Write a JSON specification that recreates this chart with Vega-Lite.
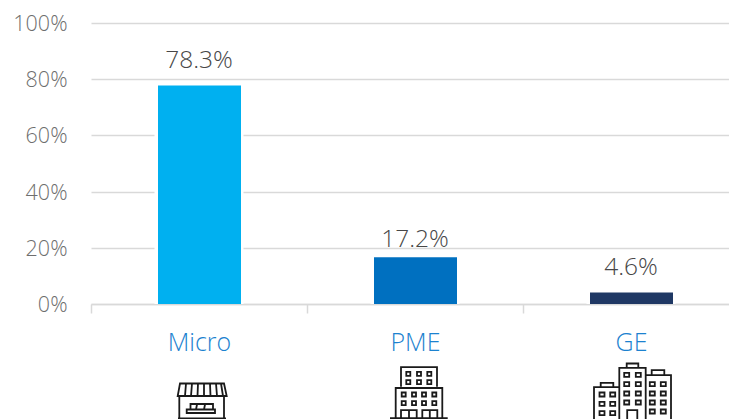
{"$schema":"https://vega.github.io/schema/vega-lite/v6.json","width":648,"height":281,"autosize":"none","padding":{"left":91,"top":23,"right":0,"bottom":115},"background":"white","view":{"stroke":null},
"data":{"values":[{"segment":"Micro","share":0.783},{"segment":"PME","share":0.172},{"segment":"GE","share":0.046}]},
"encoding":{"x":{"field":"segment","type":"nominal","sort":["Micro","PME","GE"],"scale":{"paddingInner":0,"paddingOuter":0},"axis":{"title":null,"labelAngle":0,"labelFont":"Open Sans","labelFontWeight":300,"labelFontSize":25,"labelColor":"#1c82cf","labelPadding":17,"labelBaseline":"top","tickBand":"extent","tickColor":"#d9d9d9","tickWidth":1.5,"tickSize":9,"domainColor":"#d9d9d9","domainWidth":1.5,"grid":false}}},
"layer":[
{"mark":{"type":"bar","color":"white","size":89,"y2Offset":-1.5},"encoding":{"y":{"field":"share","type":"quantitative","stack":null,"scale":{"domain":[0,1]},"axis":{"title":null,"format":".0%","values":[0,0.2,0.4,0.6,0.8,1],"domain":false,"ticks":false,"labelFont":"Open Sans","labelFontWeight":300,"labelFontSize":21.5,"labelColor":"#6e6e6e","labelPadding":24,"labelOffset":1.5,"gridColor":"#d9d9d9","gridWidth":1.5}}}},
{"mark":{"type":"bar","size":83,"xOffset":0.5,"x2Offset":0.5,"yOffset":1.5,"y2Offset":-1.5},"encoding":{"y":{"field":"share","type":"quantitative","stack":null},"color":{"field":"segment","type":"nominal","legend":null,"sort":["Micro","PME","GE"],"scale":{"domain":["Micro","PME","GE"],"range":["#00b0f0","#0070c0","#1f3864"]}}}},
{"transform":[{"filter":"datum.segment !== 'PME'"}],"mark":{"type":"text","font":"Open Sans","fontWeight":300,"fontSize":24.5,"color":"#474747","baseline":"middle","dy":-23},"encoding":{"y":{"field":"share","type":"quantitative","stack":null},"text":{"field":"share","type":"quantitative","format":".1%"}}},
{"transform":[{"filter":"datum.segment === 'PME'"}],"mark":{"type":"text","font":"Open Sans","fontWeight":300,"fontSize":24.5,"color":"#474747","baseline":"middle","dy":-15.5},"encoding":{"y":{"field":"share","type":"quantitative","stack":null},"text":{"field":"share","type":"quantitative","format":".1%"}}},
{"mark":{"type":"point","filled":false,"size":4,"stroke":"#1a1a1a","strokeWidth":1.8,"opacity":1,"yOffset":100},"encoding":{"y":{"datum":0},"shape":{"field":"segment","type":"nominal","legend":null,"scale":{"domain":["Micro","PME","GE"],"range":[
"M-19 -20.5L25 -20.5L27.7 -8L-21.3 -8ZM-13 -20.5L-14 -8M-7 -20.5L-8 -8M-1 -20.5L-1.5 -8M5 -20.5L5 -8M11 -20.5L11.5 -8M17 -20.5L18 -8M22 -20.5L24 -8M-19.7 -8L-19.7 14M25 -8L25 14M-21 14.5L27 14.5M-12.3 5.5L16 5.5L16 9L-12.3 9ZM-8.5 5.5L-8.5 0L14 0L14 5.5M-3 5.5L-2 0.5M5 5.5L6 0.5",
"M-14 -17.2L-14 -36.8L22 -36.8L22 -17.2M-19.3 14L-19.3 -16L27.3 -16L27.3 14M-25 14.2L32.7 14.2M-8.7 -32.2h4v4h-4zM2 -32.2h4v4h-4zM12.3 -32.2h4v4h-4zM-8.7 -23.8h4v4h-4zM2 -23.8h4v4h-4zM12.3 -23.8h4v4h-4zM-13.3 -11.5h4v4h-4zM-3 -11.5h4v4h-4zM7 -11.5h4v4h-4zM17.3 -11.5h4v4h-4zM-13.3 -2.8h4v4h-4zM-3 -2.8h4v4h-4zM7 -2.8h4v4h-4zM17.3 -2.8h4v4h-4zM-14 14L-14 6.2L1.7 6.2L1.7 14M-6 6.2L-6 14M7.3 14L7.3 6.2L22.3 6.2L22.3 14M14.8 6.2L14.8 14",
"M-11.7 22L-11.7 -36.2L14.7 -36.2L14.7 22M-4.3 -36.2L-4.3 -40.5L7.3 -40.5L7.3 -36.2M14.7 -28.8L40 -28.8L40 22M20.7 -28.8L20.7 -33.8L33.3 -33.8L33.3 -28.8M-11.7 -16.8L-37 -16.8L-37 22M-30.3 -16.8L-30.3 -21.2L-17.7 -21.2L-17.7 -16.8M-6.8 -31.2h5v4h-5zM4.8 -31.2h5v4h-5zM-6.8 -21.8h5v4h-5zM4.8 -21.8h5v4h-5zM-6.8 -12.5h5v4h-5zM4.8 -12.5h5v4h-5zM-6.8 -3.5h5v4h-5zM4.8 -3.5h5v4h-5zM18.8 -21.8h5v4h-5zM29.8 -21.8h5v4h-5zM18.8 -12.5h5v4h-5zM29.8 -12.5h5v4h-5zM18.8 -3.5h5v4h-5zM29.8 -3.5h5v4h-5zM18.8 5.5h5v4h-5zM29.8 5.5h5v4h-5zM-31.5 -11.5h5v4h-5zM-20.8 -11.5h5v4h-5zM-31.5 -2.2h5v4h-5zM-20.8 -2.2h5v4h-5zM-31.5 7.2h5v4h-5zM-20.8 7.2h5v4h-5zM-3.8 22L-3.8 6.2L6.3 6.2L6.3 22"
]}}}}
]}
